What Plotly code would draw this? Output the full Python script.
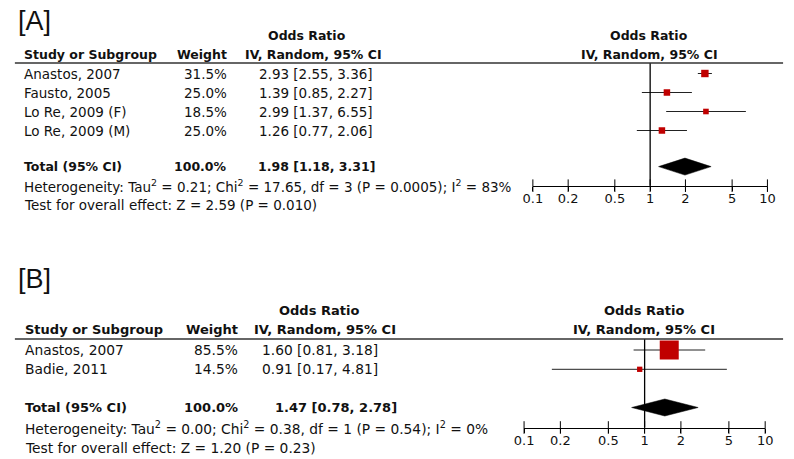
import plotly.graph_objects as go

W, H = 794, 459

# ---------------- data ----------------
tick_vals = [0.1, 0.2, 0.5, 1, 2, 5, 10]
tick_text = ["0.1", "0.2", "0.5", "1", "2", "5", "10"]

a_studies = ["Anastos, 2007", "Fausto, 2005", "Lo Re, 2009 (F)", "Lo Re, 2009 (M)"]
a_weights = [31.5, 25.0, 18.5, 25.0]
a_or = [2.93, 1.39, 2.99, 1.26]
a_lo = [2.55, 0.85, 1.37, 0.77]
a_hi = [3.36, 2.27, 6.55, 2.06]
a_total = [1.98, 1.18, 3.31]
a_het = "Heterogeneity: Tau<sup>2</sup> = 0.21; Chi<sup>2</sup> = 17.65, df = 3 (P = 0.0005); I<sup>2</sup> = 83%"
a_test = "Test for overall effect: Z = 2.59 (P = 0.010)"

b_studies = ["Anastos, 2007", "Badie, 2011"]
b_weights = [85.5, 14.5]
b_or = [1.60, 0.91]
b_lo = [0.81, 0.17]
b_hi = [3.18, 4.81]
b_total = [1.47, 0.78, 2.78]
b_het = "Heterogeneity: Tau<sup>2</sup> = 0.00; Chi<sup>2</sup> = 0.38, df = 1 (P = 0.54); I<sup>2</sup> = 0%"
b_test = "Test for overall effect: Z = 1.20 (P = 0.23)"

# ---------------- layout constants ----------------
FONT = "DejaVu Sans"
RED = "#c00000"

def px(p):
    return p / W

def py(p):
    return 1 - p / H

panels = [
    dict(label="[A]", label_y=21, studies=a_studies, weights=a_weights, est=a_or, lo=a_lo, hi=a_hi,
         total=a_total, het=a_het, test=a_test,
         xdom=(535, 775), line_y=63, axis_y=185.7, row0=73.5, row_h=19.0, total_idx=4.9,
         hdr1_y=36, hdr2_y=54, total_text_y=166, het_y=186, test_y=205.5,
         name_x=13, weight_x=223, ci_x=372, ci_total_x=374, hdr_or_x=304, hdr_ci_x=311, vx=654,
         fs=13.5, fsb=12.5, size_a=3.0, size_b=0.14, axname=("x", "y")),
    dict(label="[B]", label_y=279, studies=b_studies, weights=b_weights, est=b_or, lo=b_lo, hi=b_hi,
         total=b_total, het=b_het, test=b_test,
         xdom=(526, 772.7), line_y=339, axis_y=427.5, row0=350, row_h=19.3, total_idx=2.98,
         hdr1_y=310, hdr2_y=329, total_text_y=407, het_y=427.5, test_y=448,
         name_x=14, weight_x=234, ci_x=378, ci_total_x=397, hdr_or_x=316, hdr_ci_x=322, vx=649,
         fs=13.8, fsb=13, size_a=2.5, size_b=0.193, axname=("x2", "y2")),
]

fig = go.Figure()
annotations = []
shapes = []
layout_axes = {}

for i, p in enumerate(panels):
    xa, ya = p["axname"]
    xkey = "xaxis" if xa == "x" else "xaxis2"
    ykey = "yaxis" if ya == "y" else "yaxis2"
    y_top = (p["line_y"] - p["row0"]) / p["row_h"]
    y_bot = (p["axis_y"] - p["row0"]) / p["row_h"]
    rows = list(range(len(p["studies"])))

    # study estimates: squares with CI lines
    fig.add_trace(go.Scatter(
        x=p["est"], y=rows, mode="markers", xaxis=xa, yaxis=ya, showlegend=False,
        marker=dict(symbol="square", color=RED, opacity=1,
                    size=[p["size_a"] + p["size_b"] * w for w in p["weights"]],
                    line=dict(width=0)),
        error_x=dict(type="data", symmetric=False,
                     array=[h - e for h, e in zip(p["hi"], p["est"])],
                     arrayminus=[e - l for e, l in zip(p["est"], p["lo"])],
                     color="#222222", thickness=1, width=0),
        cliponaxis=False,
    ))
    # pooled diamond
    est, lo, hi = p["total"]
    t = p["total_idx"]
    hh = 8.5 / p["row_h"]
    fig.add_trace(go.Scatter(
        x=[lo, est, hi, est, lo], y=[t, t - hh, t, t + hh, t], mode="lines", fill="toself",
        fillcolor="black", line=dict(color="black", width=0.5), xaxis=xa, yaxis=ya, showlegend=False,
    ))
    # upper half of the tick marks (ticks cross the axis line)
    fig.add_trace(go.Scatter(
        x=tick_vals, y=[y_bot] * len(tick_vals), mode="markers", xaxis=xa, yaxis=ya, showlegend=False,
        marker=dict(symbol="line-ns", size=9, line=dict(color="black", width=1)), cliponaxis=False,
    ))

    layout_axes[xkey] = dict(
        type="log", range=[-1, 1], domain=[px(p["xdom"][0]), px(p["xdom"][1])], anchor=ya,
        showgrid=False, zeroline=False, showline=True, linecolor="black", linewidth=1,
        ticks="outside", ticklen=4, tickcolor="black", tickwidth=1, ticklabelstandoff=-3,
        tickvals=tick_vals, ticktext=tick_text, tickfont=dict(family=FONT, size=13, color="#111"),
        fixedrange=True,
    )
    layout_axes[ykey] = dict(
        range=[y_bot, y_top], domain=[py(p["axis_y"]), py(p["line_y"])], anchor=xa,
        visible=False, fixedrange=True,
    )

    # line of no effect
    shapes.append(dict(type="line", xref=xa, yref=ya + " domain", x0=1, x1=1, y0=0, y1=1,
                       line=dict(color="black", width=1.3)))
    # header rule
    shapes.append(dict(type="line", xref="paper", yref="paper", x0=px(5), x1=px(791),
                       y0=py(p["line_y"]), y1=py(p["line_y"]), line=dict(color="#333333", width=1.3)))

    def ann(text, x, y, anchor="left", bold=False, size=None, family=FONT):
        annotations.append(dict(
            text=("<b>%s</b>" % text) if bold else text, x=px(x), y=py(y), xref="paper", yref="paper",
            xanchor=anchor, yanchor="middle", showarrow=False, borderpad=0,
            font=dict(family=family, size=size or (p["fsb"] if bold else p["fs"]), color="#111"),
        ))

    ann(p["label"], 7, p["label_y"], size=27, family="Liberation Sans")
    ann("Odds Ratio", p["hdr_or_x"], p["hdr1_y"], "center", bold=True)
    ann("Study or Subgroup", p["name_x"], p["hdr2_y"], bold=True)
    ann("Weight", p["weight_x"], p["hdr2_y"], "right", bold=True)
    ann("IV, Random, 95% CI", p["hdr_ci_x"], p["hdr2_y"], "center", bold=True)
    ann("Odds Ratio", p["vx"], p["hdr1_y"], "center", bold=True)
    ann("IV, Random, 95% CI", p["vx"], p["hdr2_y"], "center", bold=True)

    for r, (s, w, e, l, h) in enumerate(zip(p["studies"], p["weights"], p["est"], p["lo"], p["hi"])):
        yy = p["row0"] + r * p["row_h"]
        ann(s, p["name_x"], yy)
        ann("%.1f%%" % w, p["weight_x"], yy, "right")
        ann("%.2f [%.2f, %.2f]" % (e, l, h), p["ci_x"], yy, "right")

    ann("Total (95% CI)", p["name_x"], p["total_text_y"], bold=True)
    ann("100.0%", p["weight_x"], p["total_text_y"], "right", bold=True)
    ann("%.2f [%.2f, %.2f]" % (est, lo, hi), p["ci_total_x"], p["total_text_y"], "right", bold=True)
    ann(p["het"], p["name_x"], p["het_y"])
    ann(p["test"], p["name_x"], p["test_y"])

fig.update_layout(
    width=W, height=H, margin=dict(l=0, r=0, t=0, b=0),
    paper_bgcolor="white", plot_bgcolor="rgba(0,0,0,0)",
    annotations=annotations, shapes=shapes, showlegend=False,
    **layout_axes,
)

fig.write_html("out.html", config={"displayModeBar": False},
               post_script="document.body.style.margin='0';document.body.style.overflow='hidden';")
